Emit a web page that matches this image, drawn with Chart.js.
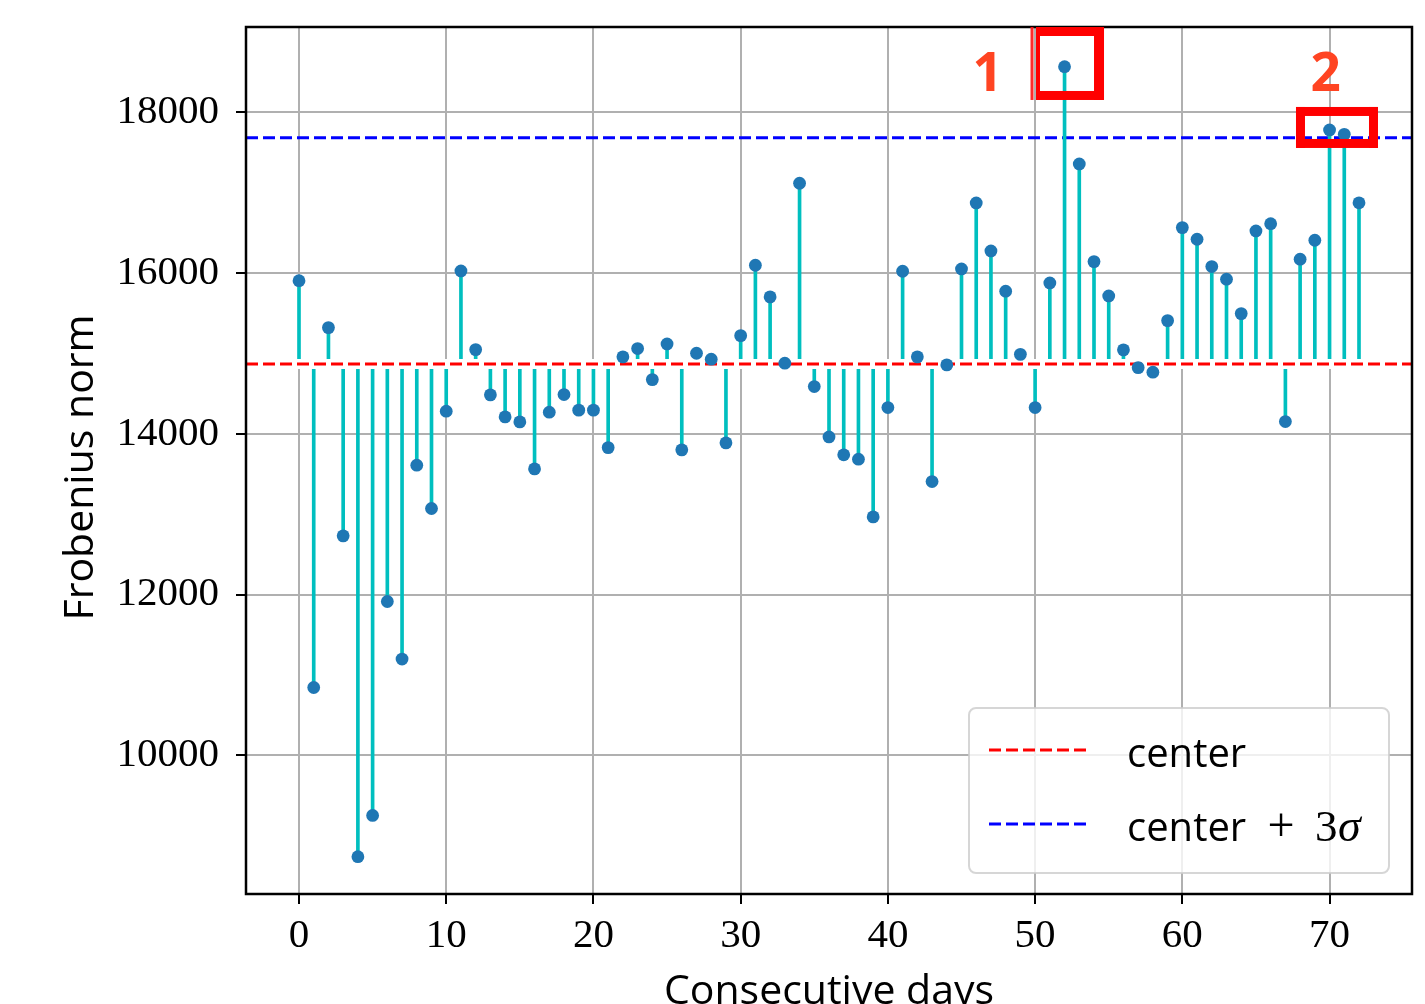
<!DOCTYPE html>
<html>
<head>
<meta charset="utf-8">
<style>
html, body { margin: 0; padding: 0; background: #ffffff; }
#wrap { width: 1425px; height: 1004px; position: relative; overflow: hidden; }
canvas { display: block; }
</style>
<script src="https://cdn.jsdelivr.net/npm/chart.js@4.4.1/dist/chart.umd.min.js"></script>
</head>
<body>
<div id="wrap"><canvas id="c" width="1425" height="1004"></canvas></div>
<script>
// ---------------- data ----------------
const days = [
  0, 1, 2, 3, 4, 5, 6, 7, 8, 9,
  10, 11, 12, 13, 14, 15, 16, 17, 18, 19,
  20, 21, 22, 23, 24, 25, 26, 27, 28, 29,
  30, 31, 32, 33, 34, 35, 36, 37, 38, 39,
  40, 41, 42, 43, 44, 45, 46, 47, 48, 49,
  50, 51, 52, 53, 54, 55, 56, 57, 58, 59,
  60, 61, 62, 63, 64, 65, 66, 67, 68, 69,
  70, 71, 72
];
const frobNorm = [
  15905, 10843, 15321, 12730, 8738, 9251, 11913, 11197, 13609, 13070,
  14281, 16026, 15047, 14484, 14210, 14148, 13563, 14269, 14488, 14294,
  14294, 13828, 14957, 15060, 14674, 15118, 13800, 15002, 14928, 13887,
  15221, 16097, 15703, 14878, 17117, 14587, 13961, 13738, 13684, 12966,
  14326, 16022, 14957, 13405, 14857, 16051, 16872, 16275, 15774, 14988,
  14326, 15877, 18567, 17357, 16142, 15715, 15044, 14823, 14766, 15408,
  16565, 16420, 16080, 15923, 15495, 16524, 16614, 14152, 16172, 16408,
  17780, 17726, 16874
];
const centerValue = 14867;
const upperLimit = 17684;          // center + 3 sigma
const xTicks = [0, 10, 20, 30, 40, 50, 60, 70];
const yTicks = [10000, 12000, 14000, 16000, 18000];
const xRange = [-3.6, 75.6];
const yRange = [8274, 19061];
const xTitle = 'Consecutive days';
const yTitle = 'Frobenius norm';
const legendLabels = ['center', 'center + 3σ'];
// highlighted outliers (outer boxes in data units)
const markLabels = ['1', '2'];
const markLabelX = [46.77, 69.73];
const markLabelY = [18265, 18265];
const markBoxX0 = [50.06, 67.72];
const markBoxX1 = [54.68, 73.29];
const markBoxY0 = [18153, 17556];
const markBoxY1 = [19061, 18066];
const markExtraLineX = [49.79, null];

// ---------------- style ----------------
const SANS = '"Open Sans", "Noto Sans", "DejaVu Sans", sans-serif';
const SERIF = '"Liberation Serif", "DejaVu Serif", serif';
const C_POINT = '#1f77b4';
const C_STEM = '#00bfbf';
const C_CENTER = '#ff0000';
const C_UPPER = '#0000ff';
const C_MARK = '#ff0000';
const C_MARK_TEXT = '#ff4422';
const MARK_BORDERS = [[4, 9, 10, 9], [9, 9, 9, 9]]; // left, top, right, bottom (px)

const pointsData = frobNorm.map((v, i) => ({ x: days[i], y: v }));
const stemData = frobNorm.map((v, i) => ({ x: days[i], y: [centerValue, v] }));
const centerLine = [{ x: xRange[0], y: centerValue }, { x: xRange[1], y: centerValue }];
const upperLine = [{ x: xRange[0], y: upperLimit }, { x: xRange[1], y: upperLimit }];

const overlay = {
  id: 'overlay',
  afterDatasetsDraw(chart) {
    const { ctx, chartArea: a } = chart;
    ctx.save();
    ctx.strokeStyle = '#000';
    ctx.lineWidth = 2.5;
    ctx.strokeRect(a.left, a.top, a.right - a.left, a.bottom - a.top);
    ctx.restore();
  },
  afterDraw(chart) {
    const { ctx, chartArea: a, scales: { x, y } } = chart;
    ctx.save();
    // axis titles
    ctx.fillStyle = '#000';
    ctx.font = '41px ' + SANS;
    ctx.textAlign = 'center';
    ctx.textBaseline = 'alphabetic';
    ctx.fillText(xTitle, (a.left + a.right) / 2, a.bottom + 110);
    ctx.save();
    ctx.translate(a.left - 153, (a.top + a.bottom) / 2 + 7);
    ctx.rotate(-Math.PI / 2);
    ctx.fillText(yTitle, 0, 0);
    ctx.restore();

    // legend
    const lw = 420, lh = 165;
    const lx = a.right - 23 - lw, ly = a.bottom - 21 - lh;
    ctx.beginPath();
    ctx.roundRect(lx, ly, lw, lh, 7);
    ctx.fillStyle = 'rgba(255,255,255,0.8)';
    ctx.fill();
    ctx.strokeStyle = 'rgba(204,204,204,0.8)';
    ctx.lineWidth = 2;
    ctx.stroke();
    const lineColors = [C_CENTER, C_UPPER];
    for (let i = 0; i < legendLabels.length; i++) {
      const rowY = ly + 42 + i * 74;
      ctx.save();
      ctx.strokeStyle = lineColors[i];
      ctx.lineWidth = 3;
      ctx.setLineDash([12, 5]);
      ctx.beginPath();
      ctx.moveTo(lx + 20, rowY);
      ctx.lineTo(lx + 119, rowY);
      ctx.stroke();
      ctx.restore();
      const base = rowY + 17;
      const parts = legendLabels[i].split(' + ');
      ctx.fillStyle = '#000';
      ctx.textAlign = 'left';
      ctx.textBaseline = 'alphabetic';
      ctx.font = '40px ' + SANS;
      ctx.fillText(parts[0], lx + 158, base);
      if (parts.length > 1) {
        ctx.font = '48px ' + SERIF;
        ctx.textAlign = 'center';
        ctx.fillText('+', lx + 312, base);
        ctx.textAlign = 'left';
        const num = parts[1].replace('σ', '');
        ctx.font = '45px ' + SERIF;
        ctx.fillText(num, lx + 346, base);
        ctx.font = 'italic 46px ' + SERIF;
        ctx.fillText('σ', lx + 369, base);
      }
    }

    // highlighted outliers
    for (let i = 0; i < markLabels.length; i++) {
      const x0 = x.getPixelForValue(markBoxX0[i]);
      const x1 = x.getPixelForValue(markBoxX1[i]);
      const y0 = y.getPixelForValue(markBoxY1[i]);
      const y1 = y.getPixelForValue(markBoxY0[i]);
      const [bl, bt, br, bb] = MARK_BORDERS[i];
      ctx.fillStyle = C_MARK;
      ctx.fillRect(x0, y0, x1 - x0, bt);
      ctx.fillRect(x0, y1 - bb, x1 - x0, bb);
      ctx.fillRect(x0, y0, bl, y1 - y0);
      ctx.fillRect(x1 - br, y0, br, y1 - y0);
      if (markExtraLineX[i] !== null) {
        const ex = x.getPixelForValue(markExtraLineX[i]);
        ctx.fillStyle = 'rgba(255,20,20,0.9)';
        ctx.fillRect(ex - 1.5, y0, 3, y1 - y0);
      }
      ctx.fillStyle = C_MARK_TEXT;
      ctx.font = 'bold 53px ' + SANS;
      ctx.textAlign = 'center';
      ctx.textBaseline = 'alphabetic';
      ctx.fillText(markLabels[i], x.getPixelForValue(markLabelX[i]), y.getPixelForValue(markLabelY[i]));
    }
    ctx.restore();
  }
};

new Chart(document.getElementById('c'), {
  type: 'scatter',
  data: {
    datasets: [
      { // markers
        type: 'scatter', data: pointsData, order: 0,
        backgroundColor: C_POINT, borderColor: C_POINT, borderWidth: 0,
        pointRadius: 6.4, pointHoverRadius: 6.4
      },
      { // center line
        type: 'line', data: centerLine, order: 1,
        borderColor: C_CENTER, borderWidth: 3, borderDash: [12, 5],
        pointRadius: 0, fill: false
      },
      { // baseline gap around center
        type: 'line', data: centerLine, order: 2,
        borderColor: '#ffffff', borderWidth: 10,
        pointRadius: 0, fill: false
      },
      { // stems
        type: 'bar', data: stemData, order: 3,
        backgroundColor: C_STEM, borderWidth: 0, barThickness: 3
      },
      { // center + 3 sigma
        type: 'line', data: upperLine, order: 4,
        borderColor: C_UPPER, borderWidth: 3, borderDash: [12, 5],
        pointRadius: 0, fill: false
      }
    ]
  },
  options: {
    responsive: false,
    animation: false,
    devicePixelRatio: 1,
    layout: { padding: { top: 27, right: 13, left: 0, bottom: 0 } },
    plugins: { legend: { display: false }, tooltip: { enabled: false } },
    events: [],
    scales: {
      x: {
        type: 'linear', position: 'bottom', offset: false,
        min: xRange[0], max: xRange[1],
        afterFit: s => { s.height = 110; s.paddingLeft = 0; s.paddingRight = 0; },
        afterBuildTicks: s => { s.ticks = xTicks.map(v => ({ value: v })); },
        grid: { offset: false, color: '#b0b0b0', lineWidth: 2, tickColor: '#000', tickWidth: 2, tickLength: 10 },
        border: { display: false },
        ticks: {
          font: { family: SERIF, size: 41 }, color: '#000', padding: 8,
          maxRotation: 0, autoSkip: false, callback: v => String(v)
        }
      },
      y: {
        type: 'linear', position: 'left', offset: false,
        min: yRange[0], max: yRange[1],
        afterFit: s => { s.width = 246; s.paddingTop = 0; s.paddingBottom = 0; },
        afterBuildTicks: s => { s.ticks = yTicks.map(v => ({ value: v })); },
        grid: { offset: false, color: '#b0b0b0', lineWidth: 2, tickColor: '#000', tickWidth: 2, tickLength: 10 },
        border: { display: false },
        ticks: {
          font: { family: SERIF, size: 41 }, color: '#000', padding: 17,
          autoSkip: false, callback: v => String(v)
        }
      }
    }
  },
  plugins: [overlay]
});
</script>
</body>
</html>
